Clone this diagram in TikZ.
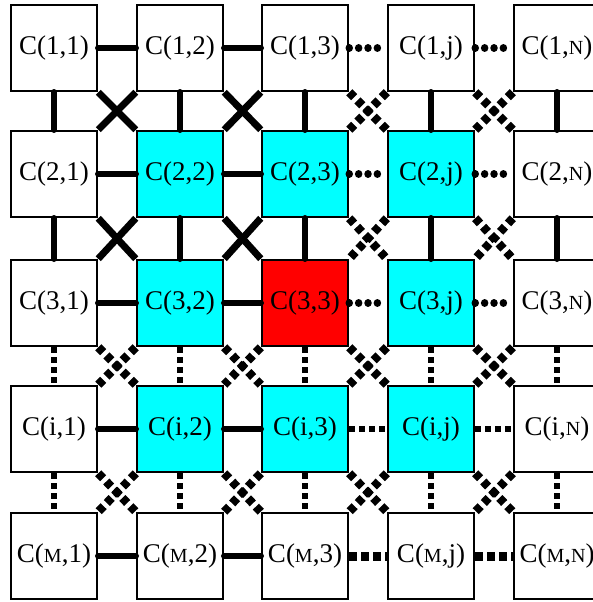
\documentclass[tikz,border=0pt]{standalone}
\usepackage{fontspec}
\setmainfont{Liberation Serif}
\usepackage{tikz}
\definecolor{cellcyan}{RGB}{0, 255, 255}
\definecolor{cellred}{RGB}{255, 0, 0}
\newcommand{\capsm}[1]{{\fontsize{20}{24}\selectfont #1}}

\begin{document}
\begin{tikzpicture}[x=1pt, y=-1pt,
    cell/.style={draw, line width=2.5pt, fill=white, minimum width=86pt, minimum height=86pt, inner sep=0pt, font=\fontsize{27}{32}\selectfont},
    link/.style={line width=6.5pt, line cap=round},
    dotlink/.style={line width=7.5pt, line cap=round, dash pattern=on 0.01pt off 9.37pt},
    dlink/.style={line width=6.5pt, dash pattern=on 6pt off 4pt},
    xlink/.style={line width=7pt},
    dxlink/.style={line width=8.5pt, dash pattern=on 7pt off 4.5pt}]
    \useasboundingbox (0,0) rectangle (593,602);

    % cells
    \node[cell] (c-1-1) at (54,48) {C(1,1)};
    \node[cell] (c-1-2) at (180,48) {C(1,2)};
    \node[cell] (c-1-3) at (305,48) {C(1,3)};
    \node[cell] (c-1-j) at (431,48) {C(1,j)};
    \node[cell] (c-1-N) at (557,48) {C(1,\capsm{N})};

    \node[cell] (c-2-1) at (54,174) {C(2,1)};
    \node[cell, fill=cellcyan] (c-2-2) at (180,174) {C(2,2)};
    \node[cell, fill=cellcyan] (c-2-3) at (305,174) {C(2,3)};
    \node[cell, fill=cellcyan] (c-2-j) at (431,174) {C(2,j)};
    \node[cell] (c-2-N) at (557,174) {C(2,\capsm{N})};

    \node[cell] (c-3-1) at (54,303) {C(3,1)};
    \node[cell, fill=cellcyan] (c-3-2) at (180,303) {C(3,2)};
    \node[cell, fill=cellred] (c-3-3) at (305,303) {C(3,3)};
    \node[cell, fill=cellcyan] (c-3-j) at (431,303) {C(3,j)};
    \node[cell] (c-3-N) at (557,303) {C(3,\capsm{N})};

    \node[cell] (c-i-1) at (54,429) {C(i,1)};
    \node[cell, fill=cellcyan] (c-i-2) at (180,429) {C(i,2)};
    \node[cell, fill=cellcyan] (c-i-3) at (305,429) {C(i,3)};
    \node[cell, fill=cellcyan] (c-i-j) at (431,429) {C(i,j)};
    \node[cell] (c-i-N) at (557,429) {C(i,\capsm{N})};

    \node[cell] (c-M-1) at (54,556) {C(\capsm{M},1)};
    \node[cell] (c-M-2) at (180,556) {C(\capsm{M},2)};
    \node[cell] (c-M-3) at (305,556) {C(\capsm{M},3)};
    \node[cell] (c-M-j) at (431,556) {C(\capsm{M},j)};
    \node[cell] (c-M-N) at (557,556) {C(\capsm{M},\capsm{N})};

    % horizontal links
    \foreach \r in {1,2,3,i,M} {
        \draw[link] (c-\r-1.east) -- (c-\r-2.west);
        \draw[link] (c-\r-2.east) -- (c-\r-3.west);
    }
    \foreach \r in {1,2,3} {
        \draw[dotlink] (c-\r-3.east) -- (c-\r-j.west);
        \draw[dotlink] (c-\r-j.east) -- (c-\r-N.west);
    }
    \draw[dlink] (c-i-3.east) -- (c-i-j.west);
    \draw[dlink] (c-i-j.east) -- (c-i-N.west);
    \draw[dlink, line width=9pt, dash pattern=on 8pt off 4pt] (c-M-3.east) -- (c-M-j.west);
    \draw[dlink, line width=9pt, dash pattern=on 8pt off 4pt] (c-M-j.east) -- (c-M-N.west);

    % vertical links
    \foreach \c in {1,2,3,j,N} {
        \draw[link] (c-1-\c.south) -- (c-2-\c.north);
        \draw[link] (c-2-\c.south) -- (c-3-\c.north);
        \draw[dlink] (c-3-\c.south) -- (c-i-\c.north);
        \draw[dlink] (c-i-\c.south) -- (c-M-\c.north);
    }

    % diagonal crosses
    \foreach \a/\b in {1/2,2/3}
        \foreach \p/\q in {1/2,2/3} {
            \draw[xlink] (c-\a-\p.south east) -- (c-\b-\q.north west);
            \draw[xlink] (c-\a-\q.south west) -- (c-\b-\p.north east);
        }
    \foreach \a/\b in {1/2,2/3}
        \foreach \p/\q in {3/j,j/N} {
            \draw[dxlink] (c-\a-\p.south east) -- (c-\b-\q.north west);
            \draw[dxlink] (c-\a-\q.south west) -- (c-\b-\p.north east);
        }
    \foreach \a/\b in {3/i,i/M}
        \foreach \p/\q in {1/2,2/3,3/j,j/N} {
            \draw[dxlink] (c-\a-\p.south east) -- (c-\b-\q.north west);
            \draw[dxlink] (c-\a-\q.south west) -- (c-\b-\p.north east);
        }
\end{tikzpicture}
\end{document}
